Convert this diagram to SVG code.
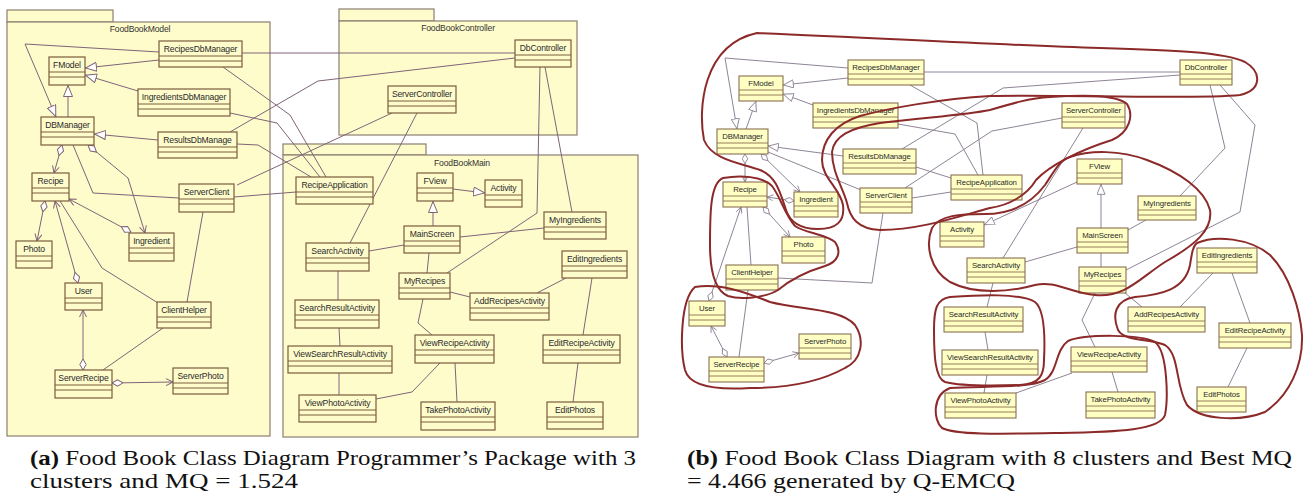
<svg xmlns="http://www.w3.org/2000/svg" width="1304" height="501" viewBox="0 0 1304 501">
<style>
  .pkg { fill: #fffccc; stroke: #8c7e70; stroke-width: 1.2; }
  .pkt { font-family: "Liberation Sans", Arial, sans-serif; font-size: 8.6px; letter-spacing: -0.15px; fill: #333; text-anchor: middle; }
  .nl rect { fill: #fffccc; stroke: #7a5c3c; stroke-width: 1.2; }
  .nl path { fill: none; stroke: #7a5c3c; stroke-width: 1; }
  .nl text { font-family: "Liberation Sans", Arial, sans-serif; font-size: 8.6px; letter-spacing: -0.15px; fill: #2a2a2a; text-anchor: middle; }
  .nr rect { fill: #ffffc4; stroke: #8a7050; stroke-width: 1.1; }
  .nr path { fill: none; stroke: #8a7050; stroke-width: 0.9; }
  .nr text { font-family: "Liberation Sans", Arial, sans-serif; font-size: 7.8px; letter-spacing: -0.1px; fill: #2a2a2a; text-anchor: middle; }
  .el { fill: none; stroke: #7e6478; stroke-width: 1; }
  .er { fill: none; stroke: #8e8496; stroke-width: 1; }
  .clu { fill: none; stroke: #8c2a2a; stroke-width: 2; }
  .cap { font-family: "Liberation Serif", "Times New Roman", serif; font-size: 21.5px; fill: #111; }
  .capb { font-weight: bold; }
</style>
<defs>
  <marker id="triL" viewBox="0 0 12 10" refX="12" refY="5" markerWidth="12" markerHeight="10" markerUnits="userSpaceOnUse" orient="auto">
    <path d="M0.5,0.5 L11.5,5 L0.5,9.5 Z" fill="#ffffff" stroke="#7e6478"/>
  </marker>
  <marker id="arrL" viewBox="0 0 8 8" refX="7.5" refY="4" markerWidth="8" markerHeight="8" markerUnits="userSpaceOnUse" orient="auto">
    <path d="M0.5,0.5 L7.5,4 L0.5,7.5" fill="none" stroke="#7e6478"/>
  </marker>
  <marker id="diaL" viewBox="0 0 12 8" refX="0.5" refY="4" markerWidth="12" markerHeight="8" markerUnits="userSpaceOnUse" orient="auto">
    <path d="M0.5,4 L6,0.8 L11.5,4 L6,7.2 Z" fill="#ffffff" stroke="#7e6478"/>
  </marker>
  <marker id="triR" viewBox="0 0 12 10" refX="12" refY="5" markerWidth="11" markerHeight="9" markerUnits="userSpaceOnUse" orient="auto">
    <path d="M0.5,0.5 L11.5,5 L0.5,9.5 Z" fill="#ffffff" stroke="#8e8496"/>
  </marker>
  <marker id="arrR" viewBox="0 0 8 8" refX="7.5" refY="4" markerWidth="7" markerHeight="7" markerUnits="userSpaceOnUse" orient="auto">
    <path d="M0.5,0.5 L7.5,4 L0.5,7.5" fill="none" stroke="#8e8496"/>
  </marker>
  <marker id="diaR" viewBox="0 0 12 8" refX="0.5" refY="4" markerWidth="11" markerHeight="7" markerUnits="userSpaceOnUse" orient="auto">
    <path d="M0.5,4 L6,0.8 L11.5,4 L6,7.2 Z" fill="#ffffff" stroke="#8e8496"/>
  </marker>
</defs>
<rect width="1304" height="501" fill="#ffffff"/>

<!-- packages of the programmer's view -->
<g id="pkg-model">
  <rect class="pkg" x="7" y="10" width="106" height="12"/>
  <rect class="pkg" x="7" y="22" width="263" height="414"/>
  <text class="pkt" x="140" y="32">FoodBookModel</text>
</g>
<g id="pkg-controller">
  <rect class="pkg" x="339" y="9" width="95" height="12"/>
  <rect class="pkg" x="339" y="21" width="238" height="114"/>
  <text class="pkt" x="458" y="31">FoodBookController</text>
</g>
<g id="pkg-main">
  <rect class="pkg" x="283" y="144" width="143" height="11"/>
  <rect class="pkg" x="283" y="155" width="355" height="282"/>
  <text class="pkt" x="462" y="166">FoodBookMain</text>
</g>

<g id="connectors">
  <g id="connectors-a">
    <path class="el" d="M159,52 L25,44 L56,117" marker-end="url(#triL)"/>
    <path class="el" d="M159,60 L85,68" marker-end="url(#triL)"/>
    <path class="el" d="M138,91 L85,75" marker-end="url(#triL)"/>
    <path class="el" d="M68,117 L68,85" marker-end="url(#triL)"/>
    <path class="el" d="M158,140 L94,134" marker-end="url(#triL)"/>
    <path class="el" d="M62,145 L54,173" marker-start="url(#diaL)" marker-end="url(#arrL)"/>
    <path class="el" d="M88,145 L128,178 L145,233" marker-start="url(#diaL)" marker-end="url(#arrL)"/>
    <path class="el" d="M73,145 L93,193 L179,198"/>
    <path class="el" d="M131,232 L69,199" marker-start="url(#diaL)" marker-end="url(#arrL)"/>
    <path class="el" d="M45,201 L37,241" marker-start="url(#diaL)" marker-end="url(#arrL)"/>
    <path class="el" d="M78,283 L55,201" marker-start="url(#diaL)" marker-end="url(#arrL)"/>
    <path class="el" d="M60,201 L102,268 L158,303"/>
    <path class="el" d="M234,197 L296,192"/>
    <path class="el" d="M203,212 L187,302"/>
    <path class="el" d="M237,185 L392,113"/>
    <path class="el" d="M230,132 L318,81 L515,58"/>
    <path class="el" d="M242,53 L515,53"/>
    <path class="el" d="M223,67 L290,115 L326,177"/>
    <path class="el" d="M230,113 L277,123 L320,177"/>
    <path class="el" d="M237,144 L258,145 L311,177"/>
    <path class="el" d="M417,113 L350,243"/>
    <path class="el" d="M545,67 L572,212"/>
    <path class="el" d="M540,67 L537,213 L447,273"/>
    <path class="el" d="M453,189 L485,193" marker-end="url(#triL)"/>
    <path class="el" d="M433,226 L433,201" marker-end="url(#triL)"/>
    <path class="el" d="M404,245 L369,251"/>
    <path class="el" d="M460,237 L544,228"/>
    <path class="el" d="M429,253 L427,273"/>
    <path class="el" d="M338,271 L338,300"/>
    <path class="el" d="M339,328 L340,346"/>
    <path class="el" d="M339,373 L339,395"/>
    <path class="el" d="M450,292 L470,297"/>
    <path class="el" d="M423,299 L418,323 L432,335"/>
    <path class="el" d="M566,278 L537,293"/>
    <path class="el" d="M592,278 L583,335"/>
    <path class="el" d="M578,363 L573,402"/>
    <path class="el" d="M440,363 L412,392 L376,399"/>
    <path class="el" d="M455,363 L457,402"/>
    <path class="el" d="M163,328 L103,370"/>
    <path class="el" d="M83,370 L83,310" marker-start="url(#diaL)" marker-end="url(#arrL)"/>
    <path class="el" d="M112,383 L173,382" marker-start="url(#diaL)" marker-end="url(#arrL)"/>
  </g>
  <g id="connectors-b">
    <path class="er" d="M848,68 L725,58 L737,129" marker-end="url(#triR)"/>
    <path class="er" d="M848,78 L783,85" marker-end="url(#triR)"/>
    <path class="er" d="M813,105 L783,94" marker-end="url(#triR)"/>
    <path class="er" d="M746,129 L756,101" marker-end="url(#triR)"/>
    <path class="er" d="M843,156 L768,146" marker-end="url(#triR)"/>
    <path class="er" d="M745,154 L745,182" marker-start="url(#diaR)" marker-end="url(#arrR)"/>
    <path class="er" d="M761,154 L800,192" marker-start="url(#diaR)" marker-end="url(#arrR)"/>
    <path class="er" d="M768,152 L861,190"/>
    <path class="er" d="M794,201 L767,197" marker-start="url(#diaR)" marker-end="url(#arrR)"/>
    <path class="er" d="M763,207 L790,237" marker-start="url(#diaR)" marker-end="url(#arrR)"/>
    <path class="er" d="M709,301 L741,207" marker-start="url(#diaR)" marker-end="url(#arrR)"/>
    <path class="er" d="M747,207 L751,265"/>
    <path class="er" d="M748,290 L739,357"/>
    <path class="er" d="M727,357 L711,326" marker-start="url(#diaR)" marker-end="url(#arrR)"/>
    <path class="er" d="M764,363 L799,353" marker-start="url(#diaR)" marker-end="url(#arrR)"/>
    <path class="er" d="M778,278 L872,283 L883,213"/>
    <path class="er" d="M912,198 L951,192"/>
    <path class="er" d="M905,188 L992,131 L1062,118"/>
    <path class="er" d="M902,149 L1003,88 L1180,75"/>
    <path class="er" d="M924,72 L1180,72"/>
    <path class="er" d="M910,85 L977,123 L983,175"/>
    <path class="er" d="M898,124 L955,134 L978,175"/>
    <path class="er" d="M916,167 L951,178"/>
    <path class="er" d="M1210,85 L1225,148 L1180,196"/>
    <path class="er" d="M1220,85 L1255,125 L1240,212 L1126,270"/>
    <path class="er" d="M1077,182 L984,225" marker-end="url(#triR)"/>
    <path class="er" d="M1101,228 L1101,184" marker-end="url(#triR)"/>
    <path class="er" d="M1128,230 L1146,220"/>
    <path class="er" d="M1077,247 L1025,262"/>
    <path class="er" d="M1101,253 L1101,267"/>
    <path class="er" d="M1083,128 L1003,258"/>
    <path class="er" d="M993,283 L987,307"/>
    <path class="er" d="M985,332 L988,350"/>
    <path class="er" d="M987,375 L984,393"/>
    <path class="er" d="M1125,293 L1142,307"/>
    <path class="er" d="M1095,293 L1082,320 L1095,347"/>
    <path class="er" d="M1213,273 L1180,307"/>
    <path class="er" d="M1232,273 L1250,323"/>
    <path class="er" d="M1247,348 L1228,387"/>
    <path class="er" d="M1072,373 L1016,393"/>
    <path class="er" d="M1112,372 L1118,392"/>
  </g>
</g>

<!-- classes, programmer's package view -->
<g id="a-RecipesDbManager" class="nl"><rect x="159" y="41" width="83" height="26"/><path d="M159,56h83M159,61h83"/><text x="200.5" y="52">RecipesDbManager</text></g>
<g id="a-FModel" class="nl"><rect x="49" y="57" width="36" height="28"/><path d="M49,72h36M49,77h36"/><text x="67" y="68">FModel</text></g>
<g id="a-IngredientsDbManager" class="nl"><rect x="138" y="89" width="92" height="27"/><path d="M138,104h92M138,109h92"/><text x="184" y="100">IngredientsDbManager</text></g>
<g id="a-DBManager" class="nl"><rect x="41" y="117" width="53" height="28"/><path d="M41,132h53M41,137h53"/><text x="67.5" y="128">DBManager</text></g>
<g id="a-ResultsDbManage" class="nl"><rect x="158" y="132" width="79" height="26"/><path d="M158,147h79M158,152h79"/><text x="197.5" y="143">ResultsDbManage</text></g>
<g id="a-Recipe" class="nl"><rect x="32" y="173" width="37" height="28"/><path d="M32,188h37M32,193h37"/><text x="50.5" y="184">Recipe</text></g>
<g id="a-ServerClient" class="nl"><rect x="179" y="184" width="55" height="28"/><path d="M179,199h55M179,204h55"/><text x="206.5" y="195">ServerClient</text></g>
<g id="a-Photo" class="nl"><rect x="16" y="241" width="36" height="27"/><path d="M16,256h36M16,261h36"/><text x="34" y="252">Photo</text></g>
<g id="a-Ingredient" class="nl"><rect x="129" y="233" width="45" height="28"/><path d="M129,248h45M129,253h45"/><text x="151.5" y="244">Ingredient</text></g>
<g id="a-User" class="nl"><rect x="65" y="283" width="37" height="27"/><path d="M65,298h37M65,303h37"/><text x="83.5" y="294">User</text></g>
<g id="a-ClientHelper" class="nl"><rect x="157" y="302" width="54" height="26"/><path d="M157,317h54M157,322h54"/><text x="184" y="313">ClientHelper</text></g>
<g id="a-ServerRecipe" class="nl"><rect x="55" y="370" width="57" height="28"/><path d="M55,385h57M55,390h57"/><text x="83.5" y="381">ServerRecipe</text></g>
<g id="a-ServerPhoto" class="nl"><rect x="173" y="368" width="55" height="26"/><path d="M173,383h55M173,388h55"/><text x="200.5" y="379">ServerPhoto</text></g>
<g id="a-DbController" class="nl"><rect x="515" y="40" width="56" height="27"/><path d="M515,55h56M515,60h56"/><text x="543" y="51">DbController</text></g>
<g id="a-ServerController" class="nl"><rect x="388" y="86" width="68" height="27"/><path d="M388,101h68M388,106h68"/><text x="422" y="97">ServerController</text></g>
<g id="a-RecipeApplication" class="nl"><rect x="296" y="177" width="77" height="27"/><path d="M296,192h77M296,197h77"/><text x="334.5" y="188">RecipeApplication</text></g>
<g id="a-FView" class="nl"><rect x="417" y="173" width="36" height="28"/><path d="M417,188h36M417,193h36"/><text x="435" y="184">FView</text></g>
<g id="a-Activity" class="nl"><rect x="485" y="180" width="37" height="27"/><path d="M485,195h37M485,200h37"/><text x="503.5" y="191">Activity</text></g>
<g id="a-MyIngredients" class="nl"><rect x="544" y="212" width="62" height="27"/><path d="M544,227h62M544,232h62"/><text x="575" y="223">MyIngredients</text></g>
<g id="a-MainScreen" class="nl"><rect x="404" y="226" width="56" height="27"/><path d="M404,241h56M404,246h56"/><text x="432" y="237">MainScreen</text></g>
<g id="a-SearchActivity" class="nl"><rect x="306" y="243" width="63" height="28"/><path d="M306,258h63M306,263h63"/><text x="337.5" y="254">SearchActivity</text></g>
<g id="a-EditIngredients" class="nl"><rect x="562" y="251" width="65" height="27"/><path d="M562,266h65M562,271h65"/><text x="594.5" y="262">EditIngredients</text></g>
<g id="a-MyRecipes" class="nl"><rect x="399" y="273" width="51" height="26"/><path d="M399,288h51M399,293h51"/><text x="424.5" y="284">MyRecipes</text></g>
<g id="a-AddRecipesActivity" class="nl"><rect x="470" y="293" width="79" height="27"/><path d="M470,308h79M470,313h79"/><text x="509.5" y="304">AddRecipesActivity</text></g>
<g id="a-SearchResultActivity" class="nl"><rect x="295" y="300" width="84" height="28"/><path d="M295,315h84M295,320h84"/><text x="337" y="311">SearchResultActivity</text></g>
<g id="a-ViewRecipeActivity" class="nl"><rect x="415" y="335" width="79" height="28"/><path d="M415,350h79M415,355h79"/><text x="454.5" y="346">ViewRecipeActivity</text></g>
<g id="a-EditRecipeActivity" class="nl"><rect x="543" y="335" width="77" height="28"/><path d="M543,350h77M543,355h77"/><text x="581.5" y="346">EditRecipeActivity</text></g>
<g id="a-ViewSearchResultActivity" class="nl"><rect x="288" y="346" width="104" height="27"/><path d="M288,361h104M288,366h104"/><text x="340" y="357">ViewSearchResultActivity</text></g>
<g id="a-ViewPhotoActivity" class="nl"><rect x="299" y="395" width="77" height="27"/><path d="M299,410h77M299,415h77"/><text x="337.5" y="406">ViewPhotoActivity</text></g>
<g id="a-TakePhotoActivity" class="nl"><rect x="421" y="402" width="74" height="28"/><path d="M421,417h74M421,422h74"/><text x="458" y="413">TakePhotoActivity</text></g>
<g id="a-EditPhotos" class="nl"><rect x="547" y="402" width="56" height="27"/><path d="M547,417h56M547,422h56"/><text x="575" y="413">EditPhotos</text></g>

<!-- classes, clustered view -->
<g id="b-RecipesDbManager" class="nr"><rect x="848" y="60" width="76" height="25"/><path d="M848,74h76M848,79h76"/><text x="886" y="70">RecipesDbManager</text></g>
<g id="b-FModel" class="nr"><rect x="739" y="76" width="44" height="25"/><path d="M739,90h44M739,95h44"/><text x="761" y="86">FModel</text></g>
<g id="b-IngredientsDbManager" class="nr"><rect x="813" y="103" width="85" height="25"/><path d="M813,117h85M813,122h85"/><text x="855.5" y="113">IngredientsDbManager</text></g>
<g id="b-DBManager" class="nr"><rect x="717" y="129" width="51" height="25"/><path d="M717,143h51M717,148h51"/><text x="742.5" y="139">DBManager</text></g>
<g id="b-ResultsDbManage" class="nr"><rect x="843" y="149" width="73" height="25"/><path d="M843,163h73M843,168h73"/><text x="879.5" y="159">ResultsDbManage</text></g>
<g id="b-RecipeApplication" class="nr"><rect x="951" y="175" width="71" height="25"/><path d="M951,189h71M951,194h71"/><text x="986.5" y="185">RecipeApplication</text></g>
<g id="b-Recipe" class="nr"><rect x="723" y="182" width="44" height="25"/><path d="M723,196h44M723,201h44"/><text x="745" y="192">Recipe</text></g>
<g id="b-Ingredient" class="nr"><rect x="794" y="192" width="44" height="25"/><path d="M794,206h44M794,211h44"/><text x="816" y="202">Ingredient</text></g>
<g id="b-ServerClient" class="nr"><rect x="860" y="188" width="52" height="25"/><path d="M860,202h52M860,207h52"/><text x="886" y="198">ServerClient</text></g>
<g id="b-Photo" class="nr"><rect x="782" y="237" width="43" height="26"/><path d="M782,251h43M782,256h43"/><text x="803.5" y="247">Photo</text></g>
<g id="b-ClientHelper" class="nr"><rect x="726" y="265" width="52" height="25"/><path d="M726,279h52M726,284h52"/><text x="752" y="275">ClientHelper</text></g>
<g id="b-Activity" class="nr"><rect x="940" y="222" width="44" height="25"/><path d="M940,236h44M940,241h44"/><text x="962" y="232">Activity</text></g>
<g id="b-SearchActivity" class="nr"><rect x="967" y="258" width="58" height="25"/><path d="M967,272h58M967,277h58"/><text x="996" y="268">SearchActivity</text></g>
<g id="b-DbController" class="nr"><rect x="1180" y="60" width="52" height="25"/><path d="M1180,74h52M1180,79h52"/><text x="1206" y="70">DbController</text></g>
<g id="b-ServerController" class="nr"><rect x="1062" y="103" width="63" height="25"/><path d="M1062,117h63M1062,122h63"/><text x="1093.5" y="113">ServerController</text></g>
<g id="b-FView" class="nr"><rect x="1077" y="159" width="45" height="25"/><path d="M1077,173h45M1077,178h45"/><text x="1099.5" y="169">FView</text></g>
<g id="b-MyIngredients" class="nr"><rect x="1138" y="196" width="58" height="24"/><path d="M1138,210h58M1138,215h58"/><text x="1167" y="206">MyIngredients</text></g>
<g id="b-MainScreen" class="nr"><rect x="1077" y="228" width="51" height="25"/><path d="M1077,242h51M1077,247h51"/><text x="1102.5" y="238">MainScreen</text></g>
<g id="b-MyRecipes" class="nr"><rect x="1079" y="267" width="47" height="26"/><path d="M1079,281h47M1079,286h47"/><text x="1102.5" y="277">MyRecipes</text></g>
<g id="b-EditIngredients" class="nr"><rect x="1197" y="248" width="60" height="25"/><path d="M1197,262h60M1197,267h60"/><text x="1227" y="258">EditIngredients</text></g>
<g id="b-AddRecipesActivity" class="nr"><rect x="1128" y="307" width="77" height="25"/><path d="M1128,321h77M1128,326h77"/><text x="1166.5" y="317">AddRecipesActivity</text></g>
<g id="b-EditRecipeActivity" class="nr"><rect x="1219" y="323" width="72" height="25"/><path d="M1219,337h72M1219,342h72"/><text x="1255" y="333">EditRecipeActivity</text></g>
<g id="b-ViewRecipeActivity" class="nr"><rect x="1071" y="347" width="76" height="25"/><path d="M1071,361h76M1071,366h76"/><text x="1109" y="357">ViewRecipeActivity</text></g>
<g id="b-TakePhotoActivity" class="nr"><rect x="1086" y="392" width="69" height="26"/><path d="M1086,406h69M1086,411h69"/><text x="1120.5" y="402">TakePhotoActivity</text></g>
<g id="b-EditPhotos" class="nr"><rect x="1197" y="387" width="49" height="25"/><path d="M1197,401h49M1197,406h49"/><text x="1221.5" y="397">EditPhotos</text></g>
<g id="b-SearchResultActivity" class="nr"><rect x="944" y="307" width="79" height="25"/><path d="M944,321h79M944,326h79"/><text x="983.5" y="317">SearchResultActivity</text></g>
<g id="b-ViewSearchResultActivity" class="nr"><rect x="942" y="350" width="96" height="25"/><path d="M942,364h96M942,369h96"/><text x="990" y="360">ViewSearchResultActivity</text></g>
<g id="b-ViewPhotoActivity" class="nr"><rect x="945" y="393" width="71" height="25"/><path d="M945,407h71M945,412h71"/><text x="980.5" y="403">ViewPhotoActivity</text></g>
<g id="b-User" class="nr"><rect x="689" y="301" width="36" height="25"/><path d="M689,315h36M689,320h36"/><text x="707" y="311">User</text></g>
<g id="b-ServerRecipe" class="nr"><rect x="709" y="357" width="55" height="25"/><path d="M709,371h55M709,376h55"/><text x="736.5" y="367">ServerRecipe</text></g>
<g id="b-ServerPhoto" class="nr"><rect x="799" y="334" width="52" height="25"/><path d="M799,348h52M799,353h52"/><text x="825" y="344">ServerPhoto</text></g>

<!-- cluster outlines -->
<g id="clusters">
  <path id="cluster-model" class="clu" d="M757,33 C880,38 1000,45 1100,48 C1170,50 1225,52 1245,62 C1262,72 1262,90 1240,95 C1190,100 1060,94 990,96 C940,99 890,108 860,116 C835,124 822,140 822,160 C822,178 840,188 843,205 C845,222 836,229 818,229 C800,229 790,222 786,210 C780,192 776,176 760,170 C740,163 712,160 704,140 C698,110 702,45 757,33 Z"/>
  <path id="cluster-server" class="clu" d="M990,110 C1010,104 1030,98 1050,97 C1080,95 1115,94 1127,104 C1134,115 1130,132 1112,140 C1080,150 1050,165 1036,180 C1027,195 1010,205 990,208 C960,216 920,230 880,230 C858,229 850,218 847,203 C843,188 832,172 832,152 C834,136 850,128 880,123 C930,117 965,115 990,110 Z"/>
  <path id="cluster-recipe" class="clu" d="M723,178 C740,175 762,176 772,186 C780,196 785,215 795,226 C805,233 825,234 835,242 C842,252 838,262 825,266 C805,272 790,280 778,290 C765,298 740,300 728,296 C714,290 710,270 710,245 C710,215 710,183 723,178 Z"/>
  <path id="cluster-user" class="clu" d="M695,287 C720,283 745,292 770,302 C800,310 840,308 855,325 C865,340 862,360 845,368 C820,382 790,388 750,388 C720,390 690,388 685,370 C680,350 680,300 695,287 Z"/>
  <path id="cluster-view" class="clu" d="M1070,157 C1090,150 1120,150 1147,160 C1180,172 1205,190 1210,210 C1213,230 1195,245 1165,262 C1140,278 1125,298 1095,295 C1070,293 1055,280 1035,285 C1010,292 975,295 950,282 C930,270 925,245 932,228 C940,215 960,214 985,214 C1010,214 1030,205 1045,185 C1055,170 1060,160 1070,157 Z"/>
  <path id="cluster-search" class="clu" d="M950,297 C980,295 1020,293 1035,302 C1045,310 1045,340 1044,360 C1044,375 1040,384 1020,385 C990,386 960,386 945,382 C935,378 934,355 934,330 C934,310 936,299 950,297 Z"/>
  <path id="cluster-photo" class="clu" d="M950,388 C990,386 1030,388 1045,380 C1058,372 1055,350 1068,341 C1085,334 1140,334 1155,342 C1168,352 1168,400 1165,415 C1160,430 1120,432 1060,433 C1000,434 955,435 942,428 C933,420 932,395 950,388 Z"/>
  <path id="cluster-edit" class="clu" d="M1197,243 C1215,235 1250,238 1270,255 C1290,275 1300,310 1302,335 C1303,365 1290,395 1265,412 C1240,422 1200,420 1187,405 C1175,385 1180,355 1165,345 C1150,338 1125,342 1118,330 C1112,315 1115,300 1135,297 C1160,295 1185,290 1190,265 C1192,252 1193,246 1197,243 Z"/>
</g>

<!-- captions -->
<g id="captions">
  <text class="cap" x="30" y="465" textLength="606" lengthAdjust="spacingAndGlyphs"><tspan class="capb">(a)</tspan> Food Book Class Diagram Programmer’s Package with 3</text>
  <text class="cap" x="30" y="488" textLength="268" lengthAdjust="spacingAndGlyphs">clusters and MQ = 1.524</text>
  <text class="cap" x="687" y="465" textLength="605" lengthAdjust="spacingAndGlyphs"><tspan class="capb">(b)</tspan> Food Book Class Diagram with 8 clusters and Best MQ</text>
  <text class="cap" x="687" y="488" textLength="328" lengthAdjust="spacingAndGlyphs">= 4.466 generated by Q-EMCQ</text>
</g>
</svg>
